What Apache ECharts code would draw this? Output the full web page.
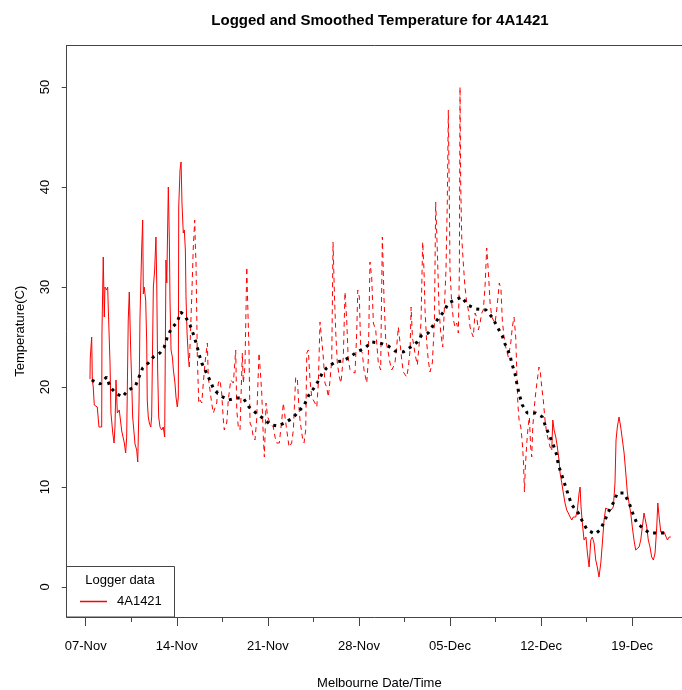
<!DOCTYPE html>
<html>
<head>
<meta charset="utf-8">
<title>Logged and Smoothed Temperature for 4A1421</title>
<script src="https://cdn.jsdelivr.net/npm/echarts@6/dist/echarts.min.js"></script>
<style>
  html, body { margin: 0; padding: 0; background: #fff; }
  #chart { width: 682px; height: 690px; }
</style>
</head>
<body>
<div id="chart"></div>
<script>
// days since 07-Nov 00:00
const loggerDays = [
  0.33,0.35,0.46,0.51,0.58,0.66,0.89,1.02,1.23,1.25,
  1.35,1.43,1.48,1.61,1.69,1.74,1.87,1.94,2.08,2.18,
  2.25,2.33,2.43,2.58,2.77,2.97,3.07,3.15,3.27,3.35,
  3.46,3.54,3.61,3.79,3.92,4.00,4.10,4.17,4.30,4.38,
  4.43,4.50,4.61,4.69,4.73,4.81,4.89,5.00,5.07,5.20,
  5.30,5.40,5.46,5.53,5.61,5.71,5.84,5.96,6.07,6.17,
  6.23,6.35,6.43,6.48,6.56,6.66,6.74,6.86,6.94,7.04,
  7.12,7.15,7.25,7.33,7.40,7.50,7.58,7.66,7.71,7.79,
  7.89,7.96,
  8.15,8.27,8.38,8.43,8.48,8.53,8.58,8.69,8.79,8.92,
  9.04,9.17,9.35,9.42,9.55,9.68,9.81,9.94,10.07,10.19,
  10.32,10.45,10.58,10.65,10.84,10.96,11.15,11.35,11.53,11.61,
  11.73,11.86,12.04,12.11,12.24,12.38,12.45,12.55,12.63,12.76,
  12.88,13.01,13.14,13.32,13.40,13.53,13.65,13.73,13.86,13.99,
  14.17,14.42,14.55,14.68,14.88,15.07,15.19,15.32,15.45,15.63,
  15.83,15.96,16.14,16.27,16.37,16.47,16.65,16.78,16.91,16.99,
  17.11,17.24,17.37,17.49,17.62,17.76,17.88,18.01,18.14,18.26,
  18.39,18.52,18.65,18.78,18.91,19.01,19.11,19.22,19.34,19.49,
  19.62,19.80,19.93,20.06,20.18,20.32,20.52,20.70,20.83,20.91,
  21.03,21.14,21.26,21.39,21.60,21.72,21.85,21.98,22.11,22.29,
  22.49,22.67,22.80,22.93,23.06,23.26,23.39,23.52,23.64,23.77,
  23.90,24.03,24.16,24.29,24.41,24.54,24.67,24.80,24.93,25.01,
  25.11,25.23,25.36,25.49,25.64,25.77,25.90,26.00,26.08,26.21,
  26.33,26.46,26.64,26.80,26.90,27.03,27.16,27.29,27.44,27.56,
  27.69,27.79,27.87,27.95,28.00,28.13,28.26,28.39,28.52,28.64,
  28.72,28.77,28.82,28.90,29.02,29.15,29.29,29.41,29.54,29.67,
  29.79,29.92,30.05,30.18,30.31,30.44,30.56,30.69,30.82,30.94,
  31.08,31.21,31.33,31.46,31.59,31.79,31.92,32.02,32.15,32.28,
  32.48,32.67,32.79,32.92,33.05,33.13,33.21,33.31,33.44,33.54,
  33.64,33.72,33.79,33.90,34.00,34.10,34.20,34.28,34.36,34.48,
  34.61,34.71,34.84,34.94,35.05,35.17,35.30,35.43,35.56,35.69,
  35.82,
  35.90,36.00,36.13,36.25,36.38,36.46,36.59,36.71,36.84,36.97,
  37.09,37.23,37.36,37.48,37.66,37.79,37.92,38.00,38.07,38.17,
  38.30,38.45,38.56,38.69,38.82,38.94,39.07,39.20,39.32,39.45,
  39.59,39.71,39.84,39.97,40.09,40.22,40.38,40.55,40.68,40.76,
  40.86,40.99,41.12,41.25,41.38,41.51,41.63,41.76,41.89,42.01,
  42.14,42.27,42.40,42.53,42.66,42.78,42.91,43.04,43.12,43.24,
  43.37,43.50,43.63,43.76,43.89,43.97,44.07,44.20,44.32,44.45,
  44.58,44.71,44.84,44.97
];
const loggerTemps = [
  20.8,22.9,25.0,20.7,20.0,18.2,18.0,16.0,16.0,25.4,
  33.0,27.0,30.0,29.7,30.0,27.7,22.4,17.4,15.4,14.4,
  16.0,20.7,17.4,17.7,15.6,14.4,13.4,15.0,26.7,29.5,
  23.7,20.3,17.0,14.3,13.7,12.5,18.4,26.7,33.7,36.7,
  29.3,30.0,28.7,24.4,18.7,17.0,16.4,16.0,17.0,30.0,
  31.7,35.0,30.4,21.7,17.0,16.0,15.7,16.0,15.0,32.7,
  30.4,40.0,34.7,28.7,23.7,23.0,21.7,20.4,19.0,18.0,
  19.0,38.0,41.7,42.5,38.4,35.4,35.7,33.7,29.0,25.4,
  23.0,22.0,
  29.0,34.0,36.7,34.0,32.4,27.7,23.0,18.4,18.7,18.4,
  20.4,22.4,24.4,21.0,19.7,18.4,17.4,17.4,18.4,20.4,
  20.7,19.4,16.7,15.7,16.4,18.7,20.7,20.4,23.7,17.7,
  16.0,15.7,23.4,20.4,22.0,32.0,28.4,23.7,16.4,16.0,
  15.0,14.7,16.7,23.4,22.0,19.4,15.0,13.0,18.4,17.0,
  16.4,16.0,15.0,14.4,14.4,16.7,18.4,17.0,15.7,14.0,
  14.4,15.7,21.0,20.7,18.4,16.7,15.0,14.4,15.7,23.4,
  23.7,20.7,19.0,18.7,18.4,18.0,20.4,26.5,24.7,23.0,
  20.4,20.0,19.0,20.7,22.7,34.5,29.5,25.4,22.4,21.0,
  20.4,23.0,29.5,26.7,22.7,21.7,21.5,21.4,25.4,29.7,
  29.0,23.7,23.4,21.7,20.4,22.7,32.5,31.0,26.4,25.7,
  22.4,21.7,35.0,28.7,24.7,23.4,22.4,21.7,22.0,22.4,
  24.0,26.0,24.4,22.7,21.5,21.4,21.0,22.0,23.7,28.0,
  25.0,24.0,23.0,22.2,22.2,26.4,34.5,31.7,27.7,24.4,
  22.7,21.5,22.4,26.4,38.5,33.4,27.7,25.4,24.0,24.0,
  31.7,38.4,47.7,38.4,31.7,28.4,26.7,26.0,26.4,25.4,
  31.7,50.0,40.4,35.0,32.4,30.0,28.4,27.7,26.0,25.4,
  25.0,27.4,27.0,25.7,26.4,27.4,27.7,30.0,33.9,31.7,
  28.4,27.0,26.7,26.4,27.7,30.4,29.7,26.7,25.0,24.0,
  23.0,24.4,26.0,27.0,25.0,21.7,18.4,16.7,16.0,14.7,
  12.7,9.5,12.0,14.4,16.0,17.0,14.0,13.0,16.0,18.0,
  19.7,20.7,22.0,21.5,20.0,18.7,16.7,15.4,14.7,14.0,
  13.7,
  16.7,15.7,15.0,14.0,12.7,11.4,10.4,9.4,8.4,7.7,
  7.4,7.0,6.7,7.0,7.0,7.7,9.4,10.0,8.0,6.4,
  4.7,5.0,3.4,2.0,4.7,5.0,4.4,2.7,2.0,1.0,
  2.4,4.4,6.7,7.9,7.9,7.7,7.7,8.0,10.4,14.7,
  16.0,17.0,16.0,14.7,13.4,11.4,9.4,8.4,7.4,6.0,
  4.7,3.7,3.5,4.0,4.7,6.0,7.4,7.4,6.0,4.7,
  4.0,3.0,2.7,3.4,6.0,8.4,7.0,5.5,5.5,5.5,
  5.4,4.7,5.0,5.0
];
// the logger trace is drawn dashed between these two days
const dashFrom = 7.96;
const dashTo = 35.82;

const smoothDays = [
  0.46,1.10,1.61,1.87,2.31,2.81,3.27,3.79,4.10,4.38,
  4.81,5.20,5.71,6.04,6.27,6.61,7.04,7.30,7.63,8.02,
  8.27,8.53,8.73,8.92,9.25,9.61,9.86,10.40,10.96,11.61,
  12.11,12.55,13.09,13.60,14.22,14.80,15.40,15.91,16.34,16.80,
  17.11,17.49,17.83,18.19,18.52,19.16,19.75,20.32,20.83,21.47,
  21.98,22.62,23.26,23.77,24.41,24.98,25.49,25.83,26.33,26.72,
  27.13,27.56,27.87,28.39,28.90,29.36,30.00,30.77,31.28,31.64,
  32.02,32.23,32.61,32.74,33.00,33.13,33.31,33.56,33.94,34.59,
  35.10,35.36,35.69,36.00,36.20,36.33,36.59,36.84,37.09,37.36,
  37.86,38.20,38.55,39.15,39.53,39.92,40.17,40.55,40.86,41.37,
  41.77,42.04,42.35,42.81,43.32,43.89,44.58
];
const smoothTemps = [
  20.7,20.3,21.0,20.0,19.4,19.0,19.7,20.0,21.0,21.9,
  22.4,23.0,23.4,24.0,25.0,25.9,26.5,27.5,27.1,26.2,
  25.3,24.2,23.2,22.4,21.5,20.5,19.7,19.1,18.7,18.9,
  18.9,18.0,17.4,16.9,16.2,16.1,16.5,16.9,17.5,18.2,
  19.1,19.8,20.5,21.4,21.9,22.5,22.6,23.0,23.5,23.9,
  24.5,24.4,24.1,23.6,23.5,24.0,24.5,25.2,25.4,26.2,
  26.9,27.6,28.4,28.7,29.0,28.2,27.8,27.7,26.9,26.0,
  25.1,24.3,23.2,22.4,21.3,20.4,19.3,18.2,17.4,17.4,
  17.0,16.0,15.0,14.0,13.2,12.2,11.2,10.2,9.2,8.2,
  7.4,6.5,5.7,5.3,5.7,6.7,7.5,8.4,9.4,9.4,
  8.4,7.4,6.4,5.9,5.4,5.4,5.4
];

const weekDays = [0, 7, 14, 21, 28, 35, 42];
const weekLabels = ['07-Nov', '14-Nov', '21-Nov', '28-Nov', '05-Dec', '12-Dec', '19-Dec'];
const halfWeekDays = [3.5, 10.5, 17.5, 24.5, 31.5, 38.5];
const tempTicks = [0, 10, 20, 30, 40, 50];

const FONT = 'Liberation Sans, Arial, sans-serif';
const AXIS_COLOR = '#444';
const X_MIN = -1.46;
const X_MAX = 45.83;   // plot box runs past the right edge of the image

function pairs(days, temps, from, to) {
  const out = [];
  for (let i = 0; i < days.length; i++) {
    if (days[i] >= from && days[i] <= to) out.push([days[i], temps[i]]);
  }
  return out;
}

const chart = echarts.init(document.getElementById('chart'), null, { renderer: 'canvas' });

const redLine = (data, type) => ({
  name: '4A1421',
  type: 'line',
  data: data,
  showSymbol: false,
  symbol: 'none',
  itemStyle: { color: '#ff0000' },
  lineStyle: { color: '#ff0000', width: 1, type: type },
  z: 2
});

chart.setOption({
  animation: false,
  backgroundColor: '#fff',
  title: {
    text: 'Logged and Smoothed Temperature for 4A1421',
    left: 380,
    top: 13,
    padding: 0,
    textAlign: 'center',
    textStyle: { fontFamily: FONT, fontSize: 15, fontWeight: 'bold', color: '#000' }
  },
  grid: {
    left: 66.7,
    right: 0,
    top: 45.5,
    bottom: 73,
    show: false,
    outerBoundsMode: 'none'
  },
  xAxis: [{
    type: 'value',
    min: X_MIN,
    max: X_MAX,
    position: 'bottom',
    name: 'Melbourne Date/Time',
    nameLocation: 'middle',
    nameGap: 60,
    nameTextStyle: { fontFamily: FONT, fontSize: 13, color: '#000', padding: [0, 0, 0, 10] },
    axisLine: { show: true, onZero: false, lineStyle: { color: AXIS_COLOR, width: 1 } },
    axisTick: { show: true, customValues: weekDays, length: 9, lineStyle: { color: AXIS_COLOR } },
    axisLabel: {
      customValues: weekDays,
      margin: 23,
      fontFamily: FONT,
      fontSize: 13,
      color: '#000',
      formatter: v => weekLabels[weekDays.indexOf(v)]
    },
    splitLine: { show: false }
  }, {
    type: 'value',
    min: X_MIN,
    max: X_MAX,
    position: 'bottom',
    axisLine: { show: false, onZero: false },
    axisTick: { show: true, customValues: halfWeekDays, length: 5, lineStyle: { color: AXIS_COLOR } },
    axisLabel: { show: false },
    splitLine: { show: false }
  }, {
    type: 'value',
    min: X_MIN,
    max: X_MAX,
    position: 'top',
    axisLine: { show: true, onZero: false, lineStyle: { color: AXIS_COLOR, width: 1 } },
    axisTick: { show: false },
    axisLabel: { show: false },
    splitLine: { show: false }
  }],
  yAxis: {
    type: 'value',
    min: -3.0,
    max: 54.15,
    name: 'Temperature(C)',
    nameLocation: 'middle',
    nameRotate: 90,
    nameGap: 40,
    nameTextStyle: { fontFamily: FONT, fontSize: 13, color: '#000' },
    axisLine: { show: true, onZero: false, lineStyle: { color: AXIS_COLOR, width: 1 } },
    axisTick: { show: true, customValues: tempTicks, length: 5, lineStyle: { color: AXIS_COLOR } },
    axisLabel: {
      customValues: tempTicks,
      rotate: 90,
      margin: 15,
      fontFamily: FONT,
      fontSize: 13,
      color: '#000'
    },
    splitLine: { show: false }
  },
  legend: {
    data: ['4A1421'],
    left: 80,
    top: 595,
    padding: 0,
    icon: 'rect',
    itemWidth: 27,
    itemHeight: 1.5,
    selectedMode: false,
    z: 2,
    textStyle: { fontFamily: FONT, fontSize: 13, color: '#000', padding: [0, 0, 0, 5] }
  },
  graphic: [{
    type: 'rect',
    z: -1,
    shape: { x: 66.5, y: 566.5, width: 108, height: 50.5 },
    style: { fill: '#fff', stroke: AXIS_COLOR, lineWidth: 1 }
  }, {
    type: 'text',
    z: 2,
    x: 120,
    y: 580,
    style: {
      text: 'Logger data',
      font: '13px ' + FONT,
      fill: '#000',
      align: 'center',
      verticalAlign: 'middle'
    }
  }],
  series: [
    redLine(pairs(loggerDays, loggerTemps, -Infinity, dashFrom), 'solid'),
    redLine(pairs(loggerDays, loggerTemps, dashFrom, dashTo), [5, 4]),
    redLine(pairs(loggerDays, loggerTemps, dashTo, Infinity), 'solid'),
    {
      name: 'Smoothed',
      type: 'line',
      data: smoothDays.map((d, i) => [d, smoothTemps[i]]),
      showSymbol: false,
      symbol: 'none',
      lineStyle: { color: '#000', width: 3, type: [3, 5], cap: 'butt' },
      z: 3
    }
  ]
});
</script>
</body>
</html>
